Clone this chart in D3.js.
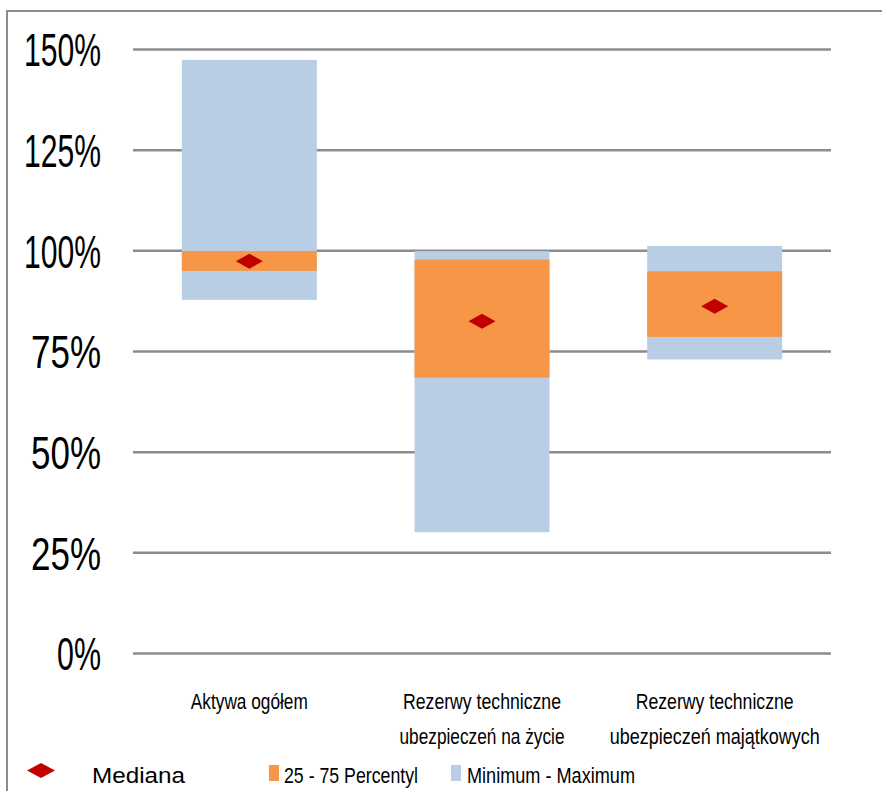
<!DOCTYPE html>
<html>
<head>
<meta charset="utf-8">
<script src="https://cdn.jsdelivr.net/npm/d3@7/dist/d3.min.js"></script>
<style>
  html, body { margin: 0; padding: 0; background: #fff; }
  svg { display: block; font-family: "Liberation Sans", Arial, sans-serif; }
</style>
</head>
<body>
<svg id="chart" width="882" height="791"></svg>
<script>
// Distribution of values per balance-sheet item (in % terms)
const categories = ["Aktywa ogółem", "Rezerwy techniczne ubezpieczeń na życie", "Rezerwy techniczne ubezpieczeń majątkowych"];
const categoryLines = [["Aktywa ogółem"], ["Rezerwy techniczne", "ubezpieczeń na życie"], ["Rezerwy techniczne", "ubezpieczeń majątkowych"]];
const minimum = [87.7, 30.0, 72.9];
const percentile25 = [94.9, 68.4, 78.5];
const percentile75 = [99.8, 97.7, 94.8];
const maximum = [147.3, 99.8, 101.1];
const median = [97.3, 82.4, 86.1];
const tickValues = [0, 25, 50, 75, 100, 125, 150];
const legendLabels = ["Mediana", "25 - 75 Percentyl", "Minimum - Maximum"];

// Layout and style
const colors = { range: "#B9CDE5", iqr: "#F79646", median: "#C00000", grid: "#8C8C8C", text: "#000" };
const plot = { left: 133, right: 831, top: 49, bottom: 653 };
const tickLabelWidths = { 2: 44, 3: 70, 4: 77 };   // by character count
const catLineWidths = { "Aktywa ogółem": 117, "Rezerwy techniczne": 158, "ubezpieczeń na życie": 165, "ubezpieczeń majątkowych": 210 };
const legendWidths = [93, 134, 168];

const svg = d3.select("#chart");

const y = d3.scaleLinear().domain([0, 150]).range([plot.bottom, plot.top]);
const x = d3.scaleBand().domain(categories).range([plot.left, plot.right])
  .paddingInner(0.42).paddingOuter(0.21);

// Outer frame (top and left edges)
svg.append("path")
  .attr("d", "M7,791 L7,11 L882,11")
  .attr("fill", "none").attr("stroke", colors.grid).attr("stroke-width", 2);

// Gridlines and value axis labels
const fmt = d => d + "%";
const yAxis = d3.axisLeft(y).tickValues(tickValues).tickSize(-(plot.right - plot.left)).tickFormat(fmt);
const gAxis = svg.append("g").attr("transform", `translate(${plot.left},0)`).call(yAxis);
gAxis.select(".domain").remove();
gAxis.selectAll(".tick line").attr("stroke", colors.grid).attr("stroke-width", 2.5);
gAxis.selectAll(".tick text")
  .attr("x", -32).attr("dy", "0.36em")
  .attr("fill", colors.text)
  .style("font-size", "47px")
  .attr("text-anchor", "end")
  .attr("textLength", d => tickLabelWidths[fmt(d).length]).attr("lengthAdjust", "spacingAndGlyphs");

const idx = d3.range(categories.length);

// Min–max range
svg.append("g").selectAll("rect").data(idx).join("rect")
  .attr("x", i => x(categories[i]))
  .attr("width", x.bandwidth())
  .attr("y", i => y(maximum[i]))
  .attr("height", i => y(minimum[i]) - y(maximum[i]))
  .attr("fill", colors.range);

// Interquartile range
svg.append("g").selectAll("rect").data(idx).join("rect")
  .attr("x", i => x(categories[i]))
  .attr("width", x.bandwidth())
  .attr("y", i => y(percentile75[i]))
  .attr("height", i => y(percentile25[i]) - y(percentile75[i]))
  .attr("fill", colors.iqr);

// Median markers
const diamond = (cx, cy, w, h) => `M${cx - w / 2},${cy} L${cx},${cy - h / 2} L${cx + w / 2},${cy} L${cx},${cy + h / 2} Z`;
svg.append("g").selectAll("path").data(idx).join("path")
  .attr("d", i => diamond(x(categories[i]) + x.bandwidth() / 2, y(median[i]), 27, 15))
  .attr("fill", colors.median);

// Category labels
const gCat = svg.append("g");
idx.forEach(i => {
  const cx = x(categories[i]) + x.bandwidth() / 2;
  categoryLines[i].forEach((line, j) => {
    gCat.append("text")
      .attr("x", cx).attr("y", 709 + j * 35)
      .attr("text-anchor", "middle")
      .style("font-size", "22px")
      .attr("fill", colors.text)
      .attr("textLength", catLineWidths[line]).attr("lengthAdjust", "spacingAndGlyphs")
      .text(line);
  });
});

// Legend
const gLeg = svg.append("g");
gLeg.append("path").attr("d", diamond(41, 770.5, 28, 15)).attr("fill", colors.median);
gLeg.append("rect").attr("x", 269).attr("y", 765).attr("width", 10).attr("height", 16).attr("fill", colors.iqr);
gLeg.append("rect").attr("x", 451).attr("y", 765).attr("width", 10).attr("height", 16).attr("fill", colors.range);
const legendX = [92, 284, 467];
legendLabels.forEach((t, i) => {
  gLeg.append("text")
    .attr("x", legendX[i]).attr("y", 783)
    .style("font-size", "22px")
    .attr("fill", colors.text)
    .attr("textLength", legendWidths[i]).attr("lengthAdjust", "spacingAndGlyphs")
    .text(t);
});
</script>
</body>
</html>
